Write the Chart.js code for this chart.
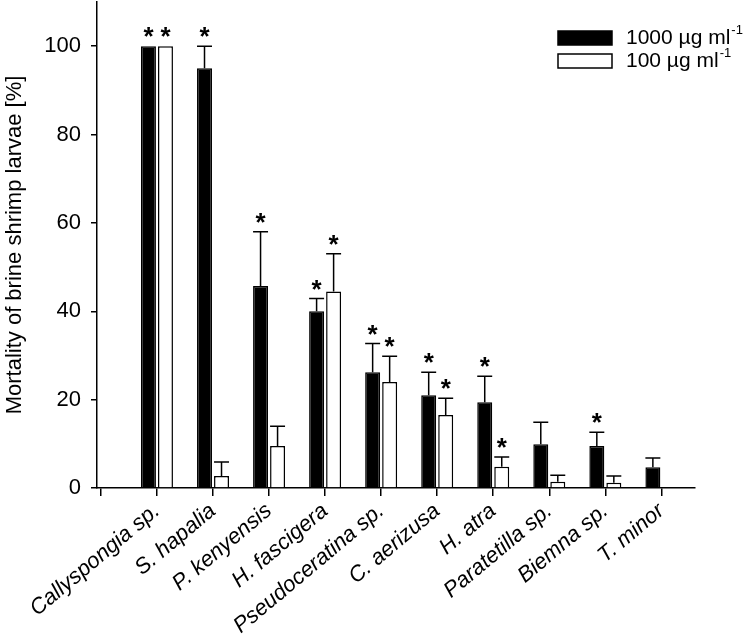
<!DOCTYPE html>
<html lang="en">
<head>
    <meta charset="UTF-8">
    <script src="https://cdn.jsdelivr.net/npm/chart.js"></script>
    <title>Brine shrimp mortality</title>
</head>
<style>
    body { margin: 0; background: #fff; }
    #wrap { width: 750px; height: 643px; }
</style>
<body>
    <div id="wrap"><canvas id="chart"></canvas></div>
</body>
<script>
    // sponge extracts
    const categories = ['Callyspongia sp.', 'S. hapalia', 'P. kenyensis', 'H. fascigera', 'Pseudoceratina sp.',
        'C. aerizusa', 'H. atra', 'Paratetilla sp.', 'Biemna sp.', 'T. minor'];

    // 1000 ug/ml
    const mean1000 = [100, 95, 45.7, 40, 26.2, 21, 19.4, 9.9, 9.5, 4.7];
    const err1000  = [0, 5, 12.3, 2.9, 6.5, 5.2, 5.9, 5, 3.1, 2.1];
    const star1000 = [1, 1, 1, 1, 1, 1, 1, 0, 1, 0];

    // 100 ug/ml
    const mean100 = [100, 2.7, 9.5, 44.5, 24, 16.5, 4.8, 1.4, 1.2, 0];
    const err100  = [0, 3.2, 4.5, 8.5, 5.8, 3.8, 2.2, 1.5, 1.5, 0];
    const star100 = [1, 0, 0, 1, 1, 1, 1, 0, 0, 0];

    const yTicks = [0, 20, 40, 60, 80, 100];
    const errs = [err1000, err100];
    const stars = [star1000, star100];

    const FONT = 'Liberation Sans, Arial, sans-serif';

    // error bars (upper only) + asterisks
    const errorBarPlugin = {
        id: 'errorBars',
        afterDatasetsDraw(chart) {
            const ctx = chart.ctx;
            const yScale = chart.scales.y;
            ctx.save();
            ctx.strokeStyle = '#000';
            ctx.fillStyle = '#000';
            ctx.lineWidth = 1.5;
            chart.data.datasets.forEach((ds, di) => {
                const meta = chart.getDatasetMeta(di);
                meta.data.forEach((bar, i) => {
                    const v = ds.data[i].y;
                    const e = errs[di][i];
                    const half = bar.width / 2;
                    const yTop = yScale.getPixelForValue(v + e);
                    if (e > 0) {
                        ctx.beginPath();
                        ctx.moveTo(bar.x, yScale.getPixelForValue(v));
                        ctx.lineTo(bar.x, yTop);
                        ctx.moveTo(bar.x - half, yTop);
                        ctx.lineTo(bar.x + half, yTop);
                        ctx.stroke();
                    }
                    if (stars[di][i]) {
                        const size = 26;
                        ctx.font = 'bold ' + size + 'px ' + FONT;
                        ctx.textAlign = 'center';
                        ctx.textBaseline = 'alphabetic';
                        ctx.fillText('*', bar.x, yTop - 16 + 0.58 * size);
                    }
                });
            });
            ctx.restore();
        }
    };

    // legend with superscript units
    const legendPlugin = {
        id: 'unitLegend',
        afterDraw(chart) {
            const ctx = chart.ctx;
            const x0 = chart.chartArea.right - 137;
            const rows = [
                { label: '1000 µg ml', fill: '#000', y: 38 },
                { label: '100 µg ml', fill: '#fff', y: 61 }
            ];
            ctx.save();
            rows.forEach(r => {
                ctx.fillStyle = r.fill;
                ctx.strokeStyle = '#000';
                ctx.lineWidth = 1.5;
                ctx.fillRect(x0, r.y - 7, 54, 14);
                ctx.strokeRect(x0, r.y - 7, 54, 14);
                ctx.fillStyle = '#000';
                ctx.font = '21px ' + FONT;
                ctx.textAlign = 'left';
                ctx.textBaseline = 'middle';
                ctx.fillText(r.label, x0 + 68, r.y);
                const w = ctx.measureText(r.label).width;
                ctx.font = '13px ' + FONT;
                ctx.fillText('-1', x0 + 68 + w + 1, r.y - 8);
            });
            ctx.restore();
        }
    };

    const ctx = document.getElementById('chart').getContext('2d');

    new Chart(ctx, {
        type: 'bar',
        data: {
            datasets: [{
                label: '1000 µg ml-1',
                data: mean1000.map((v, i) => ({ x: i + 1, y: v })),
                backgroundColor: '#000',
                borderColor: '#000',
                borderWidth: 1.5
            }, {
                label: '100 µg ml-1',
                data: mean100.map((v, i) => ({ x: i + 1, y: v })),
                backgroundColor: '#fff',
                borderColor: '#000',
                borderWidth: 1.5
            }]
        },
        options: {
            responsive: true,
            maintainAspectRatio: false,
            animation: false,
            categoryPercentage: 0.607,
            barPercentage: 0.88,
            layout: { padding: { left: 0, right: 55, top: 2, bottom: 0 } },
            plugins: {
                legend: { display: false },
                tooltip: { enabled: false }
            },
            scales: {
                x: {
                    type: 'linear',
                    min: -0.07,
                    max: 10.6,
                    offset: false,
                    grid: { display: true, offset: false, drawOnChartArea: false, drawTicks: true, tickLength: 8, color: '#000', lineWidth: 1.5 },
                    border: { color: '#000', width: 1.5 },
                    afterBuildTicks: axis => {
                        axis.ticks = [0].concat(categories.map((c, i) => i + 1)).map(v => ({ value: v }));
                    },
                    afterFit: axis => {
                        axis.height = 155;
                        axis.paddingLeft = 0;
                        axis.paddingRight = 0;
                    },
                    ticks: {
                        autoSkip: false,
                        minRotation: 40,
                        maxRotation: 40,
                        padding: 2,
                        color: '#000',
                        font: { family: FONT, size: 22, style: 'italic' },
                        callback: v => (v >= 1 ? categories[v - 1] : '')
                    }
                },
                y: {
                    min: 0,
                    max: 110,
                    grid: { display: true, drawOnChartArea: false, drawTicks: true, tickLength: 6, color: '#000', lineWidth: 1.5 },
                    border: { color: '#000', width: 1.5 },
                    afterBuildTicks: axis => {
                        axis.ticks = yTicks.map(v => ({ value: v }));
                    },
                    afterFit: axis => {
                        axis.width = 97;
                        axis.paddingTop = 0;
                        axis.paddingBottom = 0;
                    },
                    ticks: {
                        padding: 10,
                        color: '#000',
                        font: { family: FONT, size: 22 }
                    },
                    title: {
                        display: true,
                        text: 'Mortality of brine shrimp larvae [%]',
                        color: '#000',
                        padding: { top: 2, bottom: 0 },
                        font: { family: FONT, size: 22 }
                    }
                }
            }
        },
        plugins: [errorBarPlugin, legendPlugin]
    });
</script>
</html>
